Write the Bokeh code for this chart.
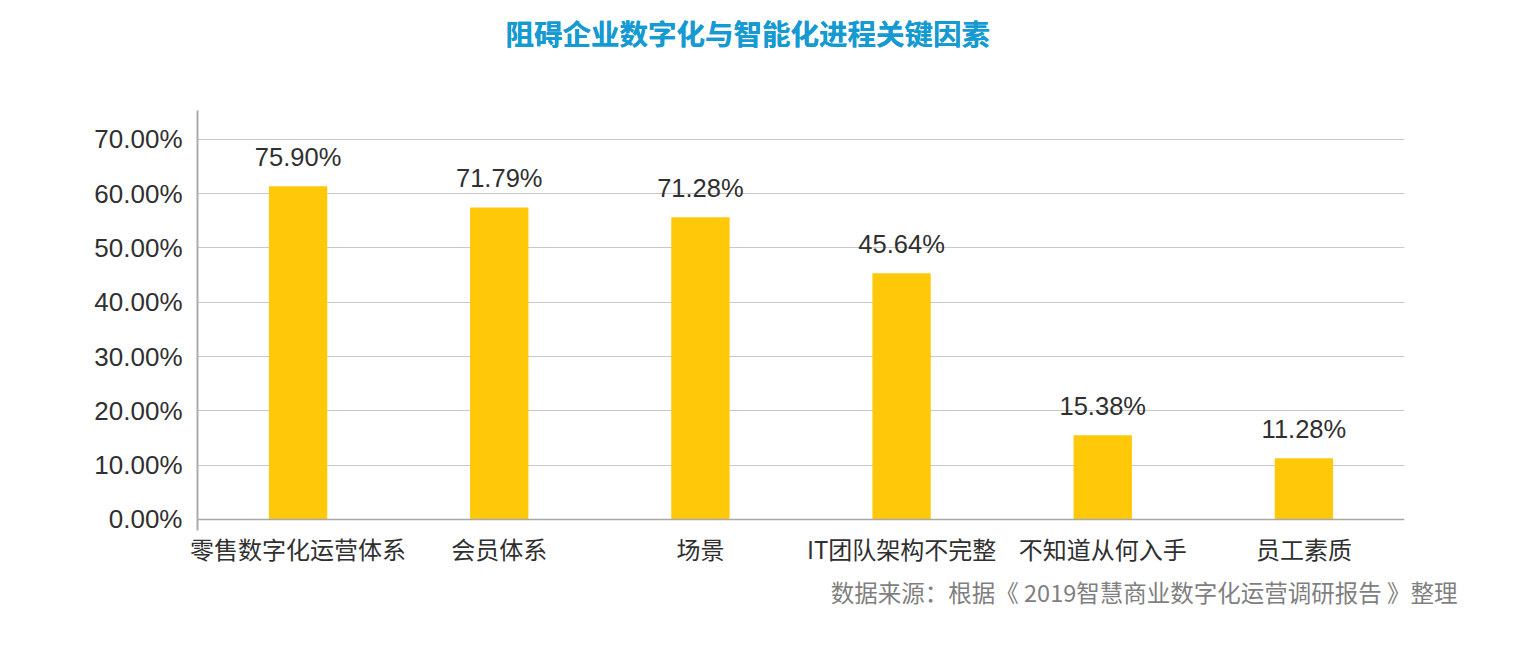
from bokeh.plotting import figure
from bokeh.models import (ColumnDataSource, FactorRange, FixedTicker, PrintfTickFormatter,
                          LabelSet, Span, Title)
from bokeh.core.properties import value
from bokeh.embed import file_html
from bokeh.resources import INLINE

# ---- data ----
categories = ["零售数字化运营体系", "会员体系", "场景", "IT团队架构不完整", "不知道从何入手", "员工素质"]
bar_values = [61.35, 57.45, 55.65, 45.35, 15.5, 11.28]
label_texts = ["75.90%", "71.79%", "71.28%", "45.64%", "15.38%", "11.28%"]
y_ticks = [0, 10, 20, 30, 40, 50, 60, 70]
title_text = "阻碍企业数字化与智能化进程关键因素"
source_text = "数据来源：根据《 2019智慧商业数字化运营调研报告 》整理"

src = ColumnDataSource(dict(cat=categories, val=bar_values, lab=label_texts))

p = figure(width=1518, height=640, output_backend="svg", toolbar_location=None,
           x_range=FactorRange(*categories, range_padding=0),
           y_range=(-2.03, 75.3),
           min_border_left=197, min_border_right=114, min_border_top=110, min_border_bottom=110)
p.outline_line_color = None
p.background_fill_color = "white"

p.vbar(x="cat", top="val", width=0.29, source=src, fill_color="#FFC90A", line_color=None)

# y axis
p.yaxis.ticker = FixedTicker(ticks=y_ticks)
p.yaxis.formatter = PrintfTickFormatter(format="%.2f%%")
p.yaxis.axis_line_color = "#ababab"
p.yaxis.axis_line_width = 2
p.yaxis.major_tick_line_color = None
p.yaxis.minor_tick_line_color = None
p.yaxis.major_tick_out = 0
p.yaxis.major_tick_in = 0
p.yaxis.major_label_standoff = 15
p.yaxis.major_label_text_font = "Liberation Sans"
p.yaxis.major_label_text_font_size = "26px"
p.yaxis.major_label_text_color = "#303030"

# x axis
p.xaxis.axis_line_color = None
p.xaxis.major_tick_line_color = None
p.xaxis.minor_tick_line_color = None
p.xaxis.major_tick_out = 0
p.xaxis.major_tick_in = 0
p.xaxis.major_label_standoff = 0
p.xaxis.major_label_text_font = "Noto Sans CJK SC"
p.xaxis.major_label_text_font_size = "24px"
p.xaxis.major_label_text_color = "#303030"

# grid
p.xgrid.grid_line_color = None
p.ygrid.ticker = FixedTicker(ticks=y_ticks)
p.ygrid.grid_line_color = "#c8c8c8"
p.ygrid.grid_line_width = 1

p.add_layout(Span(location=0, dimension="width", line_color="#a8a8a8", line_width=1.5))

labels = LabelSet(x="cat", y="val", text="lab", source=src, y_offset=20,
                  text_align="center", text_baseline="alphabetic",
                  text_font=value("Liberation Sans"), text_font_size=value("25.5px"),
                  text_color="#303030")
p.add_layout(labels)

main_title = Title(text=title_text, align="left", offset=308, standoff=10,
                   text_font="Noto Sans CJK SC", text_font_style="bold",
                   text_font_size="28.5px", text_color="#159BD1")
spacer = Title(text=" ", standoff=46, text_font_size="1px", text_alpha=0)
p.title = main_title
p.above = [spacer, main_title]

p.add_layout(Title(text=source_text, align="right", offset=-53, standoff=8,
                   text_font="Noto Sans CJK SC", text_font_style="normal",
                   text_font_size="23.5px", text_color="#7f7f7f"), "below")

open("out.html", "w").write(file_html(p, INLINE))
